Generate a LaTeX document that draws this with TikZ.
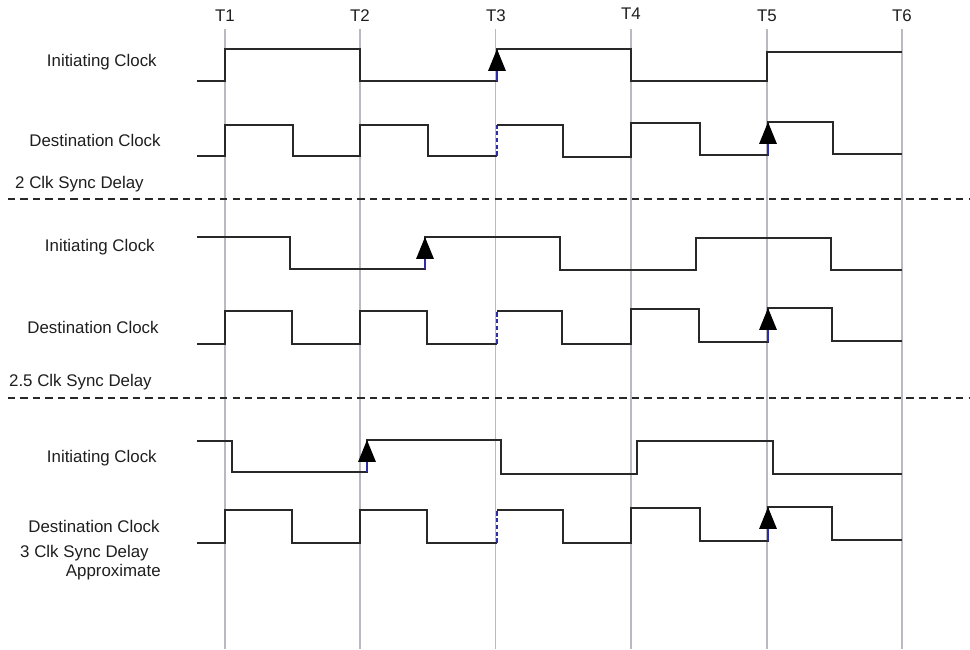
\documentclass[tikz,border=0pt]{standalone}
\usepackage{fontspec}
\setmainfont{Liberation Sans}
\usetikzlibrary{arrows.meta}
\definecolor{gridgray}{RGB}{185,185,192}
\definecolor{wave}{RGB}{40,40,40}
\definecolor{edgeblue}{RGB}{45,45,165}
\definecolor{labelgray}{RGB}{30,30,30}
\tikzset{
	tline/.style={gridgray, line width=0.6pt},
	sig/.style={wave, line width=0.75pt},
	sep/.style={wave, line width=0.6pt, dash pattern=on 4.2pt off 2.9pt},
	syncedge/.style={edgeblue, line width=0.75pt, -{Triangle[width=10pt, length=12.5pt, color=black]}},
	lateedge/.style={edgeblue, line width=0.8pt, dash pattern=on 2.6pt off 1.3pt},
	lbl/.style={labelgray, inner sep=0pt, anchor=east, font=\fontsize{9.6}{11.5}\selectfont},
	tlbl/.style={labelgray, inner sep=0pt, font=\fontsize{9.6}{11.5}\selectfont}
}

\begin{document}
\begin{tikzpicture}[x=0.02cm, y=-0.02cm]
				\useasboundingbox (0, 0) rectangle (970, 649);
				% Time marks
				\node[tlbl] (t1) at (225, 16) {T1};
				\node[tlbl] (t2) at (360, 16) {T2};
				\node[tlbl] (t3) at (496, 16) {T3};
				\node[tlbl] (t4) at (631, 14) {T4};
				\node[tlbl] (t5) at (767, 16) {T5};
				\node[tlbl] (t6) at (902, 16) {T6};
				\draw[tline] (225, 29)--(225, 649);
				\draw[tline] (360, 29)--(360, 649);
				\draw[tline] (495.5, 29)--(495.5, 649);
				\draw[tline] (631, 29)--(631, 649);
				\draw[tline] (767, 29)--(767, 649);
				\draw[tline] (902, 29)--(902, 649);
				
				% 2 clk sync delay
				\node[lbl] (init1) at (157, 62) {Initiating Clock};
				\node[lbl] (dest1) at (161, 140) {Destination Clock};
				\node[lbl] (delay1) at (144, 184) {2 Clk Sync Delay};
				\draw[sig] (197, 81)--(225, 81)--(225, 49)--(360, 49)--(360, 81)--(497, 81)--(497, 49)--(631, 49)--(631, 81)--(767, 81)--(767, 52)--(902, 52);
				\draw[syncedge] (497, 81)--(497, 49);
				\draw[sig] (197, 156)--(225, 156)--(225, 125)--(293, 125)--(293, 156)--(360, 156)--(360, 125)--(428, 125)--(428, 156)--(497, 156);
				\draw[lateedge] (497, 156)--(497, 125);
				\draw[sig] (497, 125)--(563, 125)--(563, 157)--(631, 157)--(631, 123)--(700, 123)--(700, 155)--(768, 155)--(768, 122)--(833, 122)--(833, 154)--(902, 154);
				\draw[syncedge] (768, 155)--(768, 122);
				\draw[sep] (8, 199)--(970, 199);
				
				% 2.5 clk sync delay
				\node[lbl] (init2) at (155, 247) {Initiating Clock};
				\node[lbl] (dest2) at (159, 327) {Destination Clock};
				\node[lbl] (delay2) at (152, 382) {2.5 Clk Sync Delay};
				\draw[sig] (197, 237)--(290, 237)--(290, 269)--(425, 269)--(425, 237)--(560, 237)--(560, 270)--(696, 270)--(696, 238)--(831, 238)--(831, 270)--(902, 270);
				\draw[syncedge] (425, 269)--(425, 237);
				\draw[sig] (197, 344)--(225, 344)--(225, 311)--(292, 311)--(292, 344)--(360, 344)--(360, 311)--(427, 311)--(427, 344)--(497, 344);
				\draw[lateedge] (497, 344)--(497, 311);
				\draw[sig] (497, 311)--(562, 311)--(562, 344)--(631, 344)--(631, 309)--(699, 309)--(699, 342)--(768, 342)--(768, 308)--(832, 308)--(832, 341)--(902, 341);
				\draw[syncedge] (768, 342)--(768, 308);
				\draw[sep] (8, 398)--(970, 398);
				
				% 3 clk sync delay
				\node[lbl] (init3) at (157, 458) {Initiating Clock};
				\node[lbl] (dest3) at (160, 526) {Destination Clock};
				\node[lbl] (delay3) at (149, 553) {3 Clk Sync Delay};
				\node[lbl] (approx) at (161, 572) {Approximate};
				\draw[sig] (197, 441)--(232, 441)--(232, 472)--(367, 472)--(367, 440)--(501, 440)--(501, 474)--(637, 474)--(637, 441)--(773, 441)--(773, 474)--(902, 474);
				\draw[syncedge] (367, 472)--(367, 440);
				\draw[sig] (197, 543)--(225, 543)--(225, 510)--(292, 510)--(292, 543)--(360, 543)--(360, 510)--(427, 510)--(427, 543)--(497, 543);
				\draw[lateedge] (497, 543)--(497, 510);
				\draw[sig] (497, 510)--(563, 510)--(563, 543)--(631, 543)--(631, 508)--(700, 508)--(700, 541)--(768, 541)--(768, 507)--(832, 507)--(832, 540)--(902, 540);
				\draw[syncedge] (768, 541)--(768, 507);
			\end{tikzpicture}
\end{document}
